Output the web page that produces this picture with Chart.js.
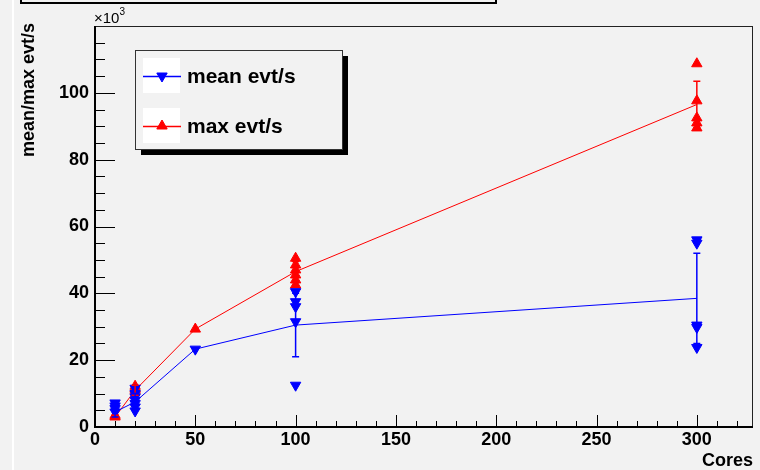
<!DOCTYPE html>
<html>
<head>
<meta charset="utf-8">
<script src="https://cdn.jsdelivr.net/npm/chart.js@4/dist/chart.umd.min.js"></script>
<style>
  html, body { margin:0; padding:0; background:#f2f2f2; }
  #wrap { width:760px; height:470px; position:relative; }
</style>
</head>
<body>
<div id="wrap"><canvas id="c"></canvas></div>
<script>
// core counts where the mean/max lines are drawn
const coreCounts = [10, 20, 50, 100, 300];
// averaged values (x10^3 evt/s) and their errors
const meanLine = [4.5, 7.5, 23.3, 30.5, 38.5];
const meanErr  = [1.5, 2.5, 0, 9.5, 13.5];
const maxLine  = [3, 11, 29.3, 46.5, 96.5];
const maxErr   = [0.5, 1.5, 0, 3, 7];

// individual runs
const meanRunX = [10, 10, 10, 10, 20, 20, 20, 20, 20, 20, 20, 50, 100, 100, 100, 100, 100, 300, 300, 300, 300, 300];
const meanRunY = [7.2, 6.3, 5.5, 4.5, 11.6, 10, 9, 8, 7, 6, 4.8, 23.3, 40.5, 37.5, 36, 31.5, 12.5, 56, 55, 30.5, 29.8, 23.8];
const maxRunX  = [10, 10, 20, 20, 20, 50, 100, 100, 100, 100, 100, 100, 300, 300, 300, 300, 300];
const maxRunY  = [3.5, 3, 12.2, 11.5, 11, 29.3, 50.5, 48.5, 47, 45.5, 44, 42.5, 108.7, 97.6, 92.5, 91, 89.5];

const xTicksMajor = [0, 50, 100, 150, 200, 250, 300];
const yTicksMajor = [0, 20, 40, 60, 80, 100];

const BLUE = '#0000ff';
const RED = '#ff0000';
const BG = '#f2f2f2';
const FONT = '"Liberation Sans", Arial, Helvetica, sans-serif';

const pts = (xs, ys) => xs.map((x, i) => ({ x, y: ys[i] }));

const rootPlugin = {
  id: 'rootStyle',
  beforeDraw(chart) {
    const ctx = chart.ctx;
    ctx.save();
    ctx.fillStyle = BG;
    ctx.fillRect(0, 0, chart.width, chart.height);
    // pad edge
    ctx.fillStyle = '#ffffff';
    ctx.fillRect(12, 0, 2, chart.height);
    // clipped title box at the top
    ctx.strokeStyle = '#000';
    ctx.lineWidth = 2;
    ctx.beginPath();
    ctx.moveTo(21, -2); ctx.lineTo(21, 3); ctx.lineTo(496, 3); ctx.lineTo(496, -2);
    ctx.stroke();
    ctx.restore();
  },
  beforeDatasetsDraw(chart) {
    const ctx = chart.ctx, a = chart.chartArea;
    const xs = chart.scales.x, ys = chart.scales.y;
    ctx.save();
    // ticks inside the frame
    ctx.strokeStyle = '#000';
    ctx.lineWidth = 1;
    ctx.beginPath();
    for (let v = 0; v <= 320; v += 10) {
      const px = Math.round(xs.getPixelForValue(v)) + 0.5;
      const len = v % 50 === 0 ? 12 : 6;
      ctx.moveTo(px, a.bottom); ctx.lineTo(px, a.bottom - len);
    }
    for (let v = 0; v <= 115; v += 5) {
      const py = Math.round(ys.getPixelForValue(v)) + 0.5;
      const len = v % 20 === 0 ? 20 : 10;
      ctx.moveTo(a.left, py); ctx.lineTo(a.left + len, py);
    }
    ctx.stroke();
    // frame
    ctx.strokeStyle = '#222';
    ctx.strokeRect(a.left + 0.5, a.top + 0.5, a.right - a.left - 1, a.bottom - a.top - 1);
    ctx.lineWidth = 2;
    ctx.strokeStyle = '#000';
    ctx.beginPath();
    ctx.moveTo(a.left, a.top); ctx.lineTo(a.left, a.bottom); ctx.lineTo(a.right, a.bottom);
    ctx.stroke();
    ctx.restore();
  },
  afterDatasetsDraw(chart) {
    const ctx = chart.ctx;
    const xs = chart.scales.x, ys = chart.scales.y;
    ctx.save();
    // error bars
    const bars = (vals, errs, col) => {
      ctx.strokeStyle = col;
      ctx.lineWidth = 1.5;
      ctx.beginPath();
      coreCounts.forEach((c, i) => {
        if (!errs[i]) return;
        const px = xs.getPixelForValue(c);
        const lo = ys.getPixelForValue(vals[i] - errs[i]);
        const hi = ys.getPixelForValue(vals[i] + errs[i]);
        ctx.moveTo(px, lo); ctx.lineTo(px, hi);
        ctx.moveTo(px - 3.5, lo); ctx.lineTo(px + 3.5, lo);
        ctx.moveTo(px - 3.5, hi); ctx.lineTo(px + 3.5, hi);
      });
      ctx.stroke();
    };
    bars(maxLine, maxErr, RED);
    bars(meanLine, meanErr, BLUE);
    ctx.restore();
  },
  afterDraw(chart) {
    const ctx = chart.ctx, a = chart.chartArea;
    ctx.save();
    ctx.fillStyle = '#000';
    // exponent
    ctx.font = '15px ' + FONT;
    ctx.textBaseline = 'alphabetic';
    ctx.textAlign = 'left';
    ctx.fillText('\u00d710', 94, 23);
    const w = ctx.measureText('\u00d710').width;
    ctx.font = '10px ' + FONT;
    ctx.fillText('3', 94 + w, 15);
    // axis titles
    ctx.font = 'bold 18px ' + FONT;
    ctx.textAlign = 'right';
    ctx.fillText('Cores', a.right, 466);
    ctx.translate(34, 23);
    ctx.rotate(-Math.PI / 2);
    ctx.textAlign = 'right';
    ctx.fillText('mean/max evt/s', 0, 0);
    ctx.restore();

    // legend box with shadow
    ctx.save();
    ctx.fillStyle = '#000';
    ctx.fillRect(141, 56, 207, 99);
    ctx.fillStyle = BG;
    ctx.fillRect(135, 50, 208, 100);
    ctx.strokeStyle = '#333';
    ctx.lineWidth = 1;
    ctx.strokeRect(135.5, 50.5, 207, 99);
    const entries = [
      { y: 76, col: BLUE, rot: 180, text: 'mean evt/s' },
      { y: 126, col: RED, rot: 0, text: 'max evt/s' }
    ];
    entries.forEach(e => {
      ctx.fillStyle = '#fff';
      ctx.fillRect(143, e.y - 18, 37, 35);
      ctx.strokeStyle = e.col;
      ctx.lineWidth = 1.5;
      ctx.beginPath();
      ctx.moveTo(143, e.y + 0.5); ctx.lineTo(181, e.y + 0.5);
      ctx.stroke();
      ctx.fillStyle = e.col;
      ctx.strokeStyle = e.col;
      ctx.lineWidth = 1;
      Chart.helpers.drawPoint(ctx, { pointStyle: 'triangle', radius: 6, rotation: e.rot, borderWidth: 1 }, 162, e.y);
      ctx.fillStyle = '#000';
      ctx.font = 'bold 21px ' + FONT;
      ctx.textAlign = 'left';
      ctx.textBaseline = 'middle';
      ctx.fillText(e.text, 187, e.y + 1);
    });
    ctx.restore();
  }
};

new Chart(document.getElementById('c'), {
  type: 'scatter',
  data: {
    datasets: [
      { label: 'mean evt/s', data: pts(meanRunX, meanRunY), showLine: false,
        pointStyle: 'triangle', rotation: 180, pointRadius: 6,
        backgroundColor: BLUE, borderColor: BLUE, borderWidth: 1 },
      { label: 'mean line', data: pts(coreCounts, meanLine), showLine: true,
        borderColor: BLUE, borderWidth: 1, pointRadius: 0, tension: 0 },
      { label: 'max evt/s', data: pts(maxRunX, maxRunY), showLine: false,
        pointStyle: 'triangle', rotation: 0, pointRadius: 6,
        backgroundColor: RED, borderColor: RED, borderWidth: 1 },
      { label: 'max line', data: pts(coreCounts, maxLine), showLine: true,
        borderColor: RED, borderWidth: 1, pointRadius: 0, tension: 0 }
    ]
  },
  options: {
    responsive: true,
    maintainAspectRatio: false,
    animation: false,
    layout: { padding: { left: 0, top: 26, right: 3, bottom: 0 } },
    plugins: { legend: { display: false }, tooltip: { enabled: false } },
    scales: {
      x: {
        type: 'linear', min: 0, max: 328,
        afterFit: s => { s.height = 43; },
        afterBuildTicks: s => { s.ticks = xTicksMajor.map(v => ({ value: v })); },
        grid: { display: false, drawTicks: false },
        border: { display: false },
        ticks: { padding: 2, color: '#000', font: { family: FONT, size: 18, weight: 'bold' } }
      },
      y: {
        type: 'linear', min: 0, max: 120,
        afterFit: s => { s.width = 95; },
        afterBuildTicks: s => { s.ticks = yTicksMajor.map(v => ({ value: v })); },
        grid: { display: false, drawTicks: false },
        border: { display: false },
        ticks: { padding: 6, color: '#000', font: { family: FONT, size: 18, weight: 'bold' } }
      }
    }
  },
  plugins: [rootPlugin]
});
</script>
</body>
</html>
